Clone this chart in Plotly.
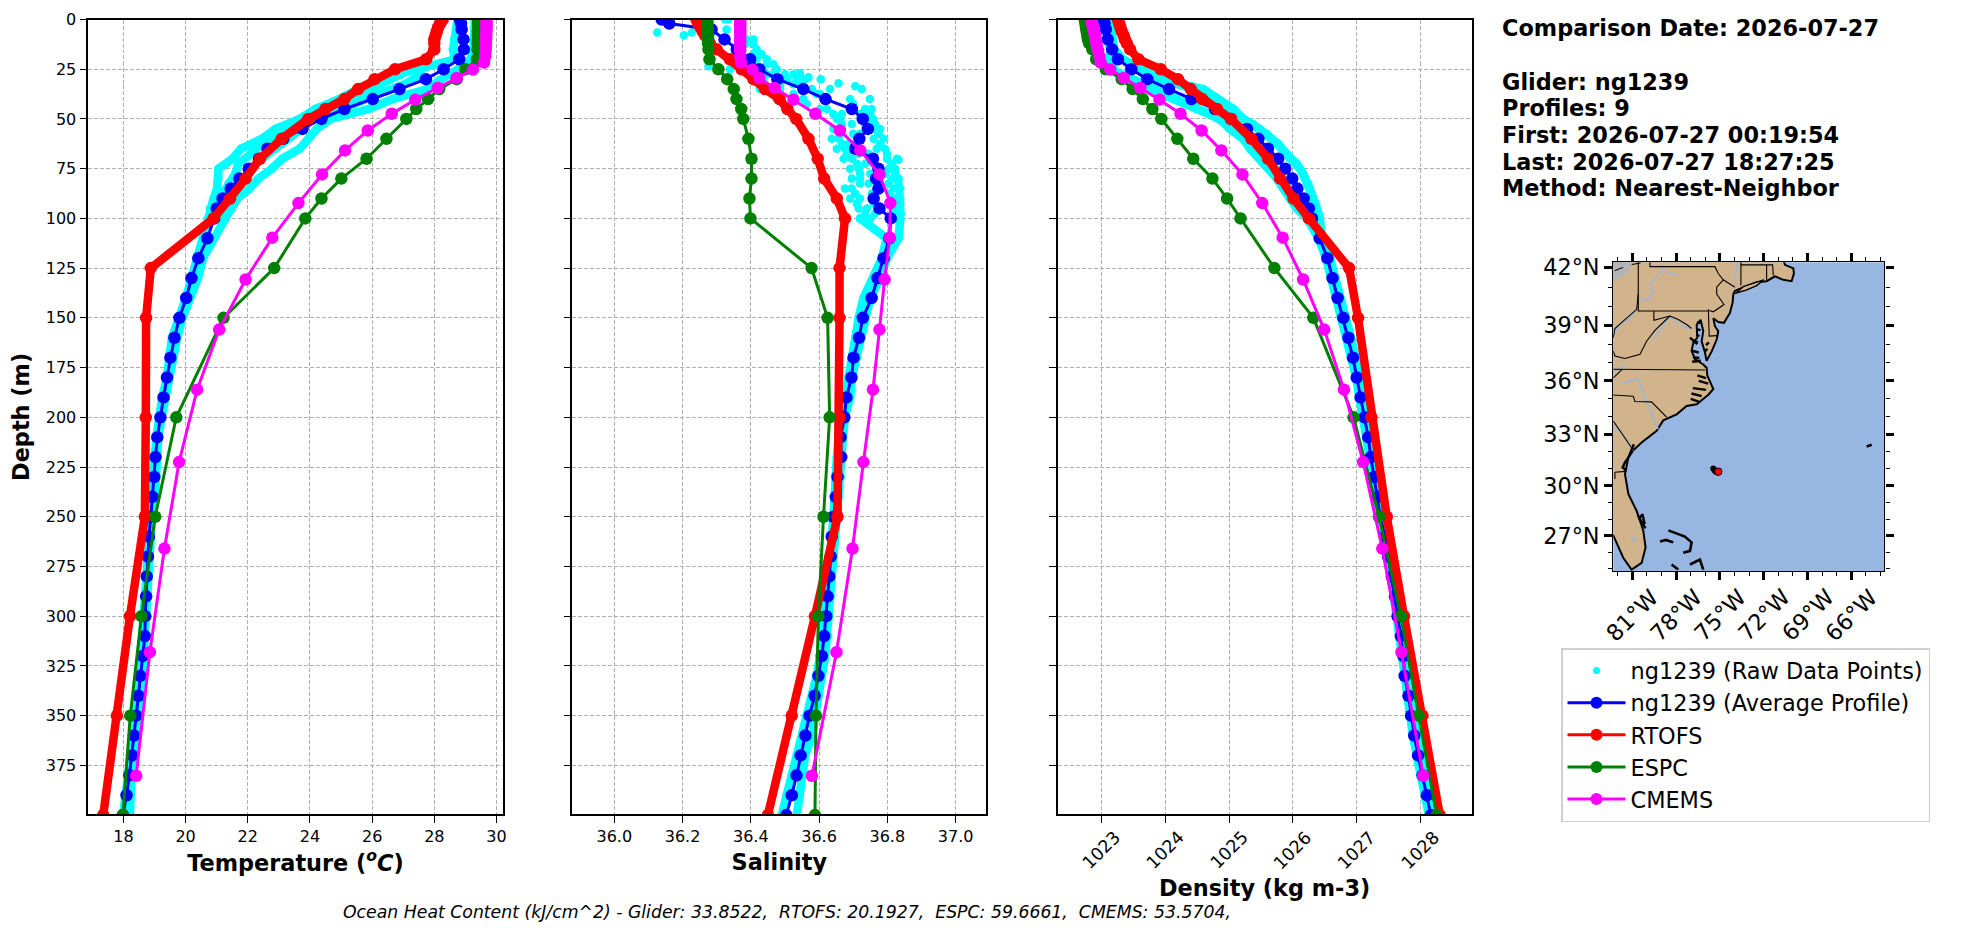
"""
Glider vs. model profile comparison for ng1239 with a small location map.
"""

import math

import plotly.graph_objects as go

FONT = 'DejaVu Sans'
WIDTH = 1968
HEIGHT = 934

# Average glider profile
AVG_DEPTH = [0, 2, 5, 10, 15, 20, 25, 30, 35, 40, 45, 50, 55, 60, 65, 70, 75, 80, 85, 90, 95, 100,
             110, 120, 130, 140, 150, 160, 170, 180, 190, 200, 210, 220, 230, 240, 250, 260, 270,
             280, 290, 300, 310, 320, 330, 340, 350, 360, 370, 380, 390, 400]
AVG_TEMP = [28.83, 28.86, 28.88, 28.94, 28.95, 28.8, 28.3, 27.73, 26.88, 26.02, 25.11, 24.37, 23.76,
            23.14, 22.63, 22.36, 22.03, 21.73, 21.45, 21.19, 21.0, 20.92, 20.7, 20.41, 20.19, 20.02,
            19.8, 19.64, 19.51, 19.4, 19.29, 19.19, 19.09, 19.03, 18.99, 18.93, 18.88, 18.82, 18.79,
            18.75, 18.73, 18.7, 18.69, 18.62, 18.54, 18.48, 18.41, 18.34, 18.28, 18.19, 18.1, 17.98]
AVG_SAL = [36.139, 36.161, 36.285, 36.323, 36.359, 36.398, 36.425, 36.478, 36.554, 36.619, 36.696,
           36.728, 36.743, 36.718, 36.706, 36.758, 36.774, 36.767, 36.774, 36.76, 36.777, 36.81,
           36.806, 36.789, 36.771, 36.754, 36.728, 36.717, 36.701, 36.695, 36.68, 36.674, 36.663,
           36.665, 36.654, 36.649, 36.642, 36.637, 36.634, 36.63, 36.625, 36.621, 36.615, 36.608,
           36.598, 36.587, 36.572, 36.56, 36.546, 36.534, 36.52, 36.504]
AVG_DEN = [1023.04, 1023.05, 1023.07, 1023.1, 1023.17, 1023.26, 1023.47, 1023.72, 1024.06, 1024.41,
           1024.78, 1025.03, 1025.28, 1025.46, 1025.61, 1025.77, 1025.88, 1025.99, 1026.07, 1026.17,
           1026.25, 1026.3, 1026.42, 1026.54, 1026.62, 1026.7, 1026.79, 1026.87, 1026.94, 1027.0,
           1027.06, 1027.12, 1027.18, 1027.22, 1027.27, 1027.33, 1027.37, 1027.44, 1027.49, 1027.55,
           1027.6, 1027.64, 1027.69, 1027.73, 1027.75, 1027.81, 1027.85, 1027.9, 1027.96, 1028.03,
           1028.1, 1028.16]

# RTOFS and ESPC share the same depth levels
MODEL_DEPTH = [0, 2, 4, 6, 8, 10, 12, 15, 20, 25, 30, 35, 40, 45, 50, 60, 70, 80, 90, 100, 125, 150,
               200, 250, 300, 350, 400]
RTOFS_TEMP = [28.27, 28.19, 28.12, 28.08, 28.04, 28.0, 28.0, 28.0, 27.74, 26.74, 26.08, 25.55, 25.11,
              24.5, 23.95, 23.09, 22.39, 21.93, 21.43, 20.9, 18.88, 18.73, 18.72, 18.69, 18.21, 17.79,
              17.35]
RTOFS_SAL = [36.241, 36.246, 36.253, 36.259, 36.266, 36.274, 36.28, 36.3, 36.339, 36.373, 36.408,
             36.442, 36.484, 36.507, 36.533, 36.569, 36.596, 36.615, 36.652, 36.676, 36.66, 36.66,
             36.66, 36.654, 36.588, 36.52, 36.45]
RTOFS_DEN = [1023.26, 1023.28, 1023.3, 1023.32, 1023.35, 1023.37, 1023.4, 1023.45, 1023.58, 1023.93,
             1024.2, 1024.4, 1024.58, 1024.81, 1025.03, 1025.35, 1025.61, 1025.8, 1026.01, 1026.25,
             1026.88, 1027.02, 1027.23, 1027.47, 1027.74, 1028.03, 1028.3]
ESPC_TEMP = [29.41, 29.41, 29.41, 29.4, 29.4, 29.4, 29.39, 29.39, 29.37, 29.0, 28.72, 28.16, 27.8,
             27.42, 27.1, 26.46, 25.82, 25.01, 24.37, 23.85, 22.85, 21.22, 19.7, 19.02, 18.58, 18.22,
             17.98]
ESPC_SAL = [36.273, 36.273, 36.274, 36.274, 36.275, 36.275, 36.275, 36.276, 36.279, 36.305, 36.331,
            36.35, 36.358, 36.372, 36.378, 36.393, 36.402, 36.402, 36.396, 36.399, 36.578, 36.625,
            36.631, 36.613, 36.598, 36.591, 36.588]
ESPC_DEN = [1022.74, 1022.75, 1022.76, 1022.77, 1022.78, 1022.79, 1022.81, 1022.86, 1022.92, 1023.07,
            1023.32, 1023.49, 1023.65, 1023.8, 1023.94, 1024.19, 1024.44, 1024.74, 1024.97, 1025.18,
            1025.71, 1026.32, 1026.95, 1027.35, 1027.69, 1027.97, 1028.25]

CMEMS_DEPTH = [0.5, 1.5, 2.6, 3.8, 5.1, 6.4, 7.9, 9.6, 11.4, 13.5, 15.8, 18.5, 21.6, 25.2, 29.4, 34.4,
               40.3, 47.4, 55.8, 65.8, 77.9, 92.3, 109.7, 130.7, 155.9, 186.1, 222.5, 266.0, 318.1,
               380.2]
CMEMS_TEMP = [29.68, 29.68, 29.68, 29.68, 29.68, 29.67, 29.67, 29.67, 29.66, 29.66, 29.65, 29.64, 29.6,
              29.24, 28.72, 28.11, 27.39, 26.63, 25.86, 25.13, 24.39, 23.63, 22.79, 21.93, 21.08,
              20.37, 19.79, 19.32, 18.85, 18.41]
CMEMS_SAL = [36.369, 36.369, 36.369, 36.369, 36.369, 36.369, 36.369, 36.369, 36.369, 36.369, 36.369,
             36.369, 36.371, 36.405, 36.425, 36.47, 36.525, 36.589, 36.661, 36.721, 36.777, 36.809,
             36.807, 36.792, 36.777, 36.758, 36.73, 36.698, 36.651, 36.579]
CMEMS_DEN = [1022.85, 1022.85, 1022.86, 1022.87, 1022.88, 1022.89, 1022.9, 1022.91, 1022.92, 1022.93,
             1022.95, 1022.97, 1022.99, 1023.14, 1023.35, 1023.61, 1023.91, 1024.24, 1024.57, 1024.88,
             1025.21, 1025.52, 1025.84, 1026.16, 1026.49, 1026.8, 1027.1, 1027.4, 1027.7, 1028.04]

# Raw glider points, read as columns across the cloud
RAW_UP_DEPTH = [0, 5, 10, 15, 20, 25, 30, 35, 40, 45, 50, 55, 60, 65, 70, 75, 80, 85, 90, 95, 100]
RAW_MID_DEPTH = [27.5, 32.5, 37.5, 42.5, 47.5, 52.5, 57.5, 62.5, 67.5, 72.5, 77.5, 82.5, 87.5, 92.5,
                 97.5]
RAW_INNER_DEPTH = [30, 35, 40, 45, 50, 55, 60, 65, 70, 75, 80, 85, 90, 95, 100]
RAW_LOWER_DEPTH = [47.5, 52.5, 57.5, 62.5, 67.5, 72.5, 77.5, 82.5, 87.5, 92.5, 97.5]
RAW_TOP_DEPTH = [12.5, 17.5, 22.5, 27.5, 32.5, 37.5]
RAW_TOP2_DEPTH = [12.5, 17.5, 22.5, 27.5]
RAW_DEEP_DEPTH = [100, 110, 120, 130, 140, 150, 160, 170, 180, 190, 200, 210, 220, 230, 240, 250, 260,
                  270, 280, 290, 300, 310, 320, 330, 340, 350, 360, 370, 380, 390, 400]

RAW_TEMP_UP_A = [28.75, 28.72, 28.64, 28.6, 28.66, 27.33, 26.22, 25.55, 24.94, 24.17, 23.67, 22.89,
                 22.45, 21.78, 21.51, 21.06, 21.06, 21.01, 20.9, 20.78, 20.73]
RAW_TEMP_UP_B = [29.3, 29.3, 29.28, 29.27, 29.16, 28.77, 28.22, 27.77, 26.66, 25.89, 24.67, 24.22,
                 23.95, 23.67, 23.11, 22.78, 22.34, 22.06, 21.67, 21.45, 21.28]
RAW_TEMP_MID_A = [26.95, 26.3, 25.55, 24.8, 24.05, 23.4, 23.0, 22.45, 22.1, 21.7, 21.6, 21.38, 21.2,
                  21.05, 20.9]
RAW_TEMP_MID_B = [27.6, 27.05, 26.2, 25.4, 24.4, 23.85, 23.5, 23.1, 22.6, 22.25, 22.0, 21.75, 21.42,
                  21.25, 21.12]
RAW_TEMP_DEEP_A = [20.73, 20.56, 20.4, 20.17, 20.01, 19.79, 19.56, 19.48, 19.4, 19.25, 19.14, 19.06,
                   19.01, 18.99, 18.92, 18.88, 18.84, 18.79, 18.73, 18.7, 18.68, 18.62, 18.57, 18.51,
                   18.45, 18.4, 18.32, 18.23, 18.14, 18.07, 17.99]
RAW_TEMP_DEEP_B = [21.28, 20.9, 20.56, 20.4, 20.12, 19.9, 19.73, 19.59, 19.45, 19.34, 19.23, 19.12,
                   19.1, 19.06, 19.01, 18.92, 18.88, 18.84, 18.81, 18.79, 18.77, 18.73, 18.7, 18.62,
                   18.57, 18.48, 18.4, 18.34, 18.26, 18.23, 18.21]

RAW_SAL_UP_A = [36.325, 36.329, 36.388, 36.359, 36.417, 36.339, 36.437, 36.427, 36.476, 36.603, 36.652,
                36.642, 36.637, 36.652, 36.672, 36.691, 36.696, 36.676, 36.691, 36.716, 36.72]
RAW_SAL_UP_B = [36.334, 36.369, 36.408, 36.417, 36.447, 36.476, 36.559, 36.632, 36.749, 36.754, 36.759,
                36.779, 36.789, 36.793, 36.828, 36.823, 36.833, 36.838, 36.838, 36.838, 36.838]
RAW_SAL_MID_A = [36.5, 36.486, 36.525, 36.564, 36.642, 36.667, 36.662, 36.667, 36.681, 36.711, 36.72,
                 36.72, 36.706, 36.711, 36.735]
RAW_SAL_MID_B = [36.447, 36.544, 36.603, 36.7, 36.72, 36.735, 36.72, 36.711, 36.745, 36.76, 36.794,
                 36.804, 36.808, 36.818, 36.823]
RAW_SAL_INNER_A = [36.505, 36.486, 36.554, 36.623, 36.662, 36.667, 36.657, 36.676, 36.696, 36.716, 36.72,
                   36.696, 36.72, 36.74, 36.75]
RAW_SAL_INNER_B = [36.535, 36.579, 36.691, 36.735, 36.745, 36.76, 36.76, 36.769, 36.799, 36.804, 36.814,
                   36.818, 36.823, 36.818, 36.828]
RAW_SAL_LOWER_A = [36.667, 36.696, 36.7, 36.686, 36.716, 36.735, 36.75, 36.745, 36.755, 36.76, 36.764]
RAW_SAL_LOWER_B = [36.75, 36.764, 36.774, 36.779, 36.799, 36.813, 36.823, 36.833, 36.836, 36.838, 36.84]
RAW_SAL_TOP_A = [36.383, 36.408, 36.447, 36.466, 36.525, 36.593]
RAW_SAL_TOP_B = [36.408, 36.432, 36.466, 36.525]
RAW_SAL_DEEP_A = [36.72, 36.798, 36.784, 36.76, 36.73, 36.716, 36.706, 36.696, 36.686, 36.672, 36.662,
                  36.657, 36.652, 36.65, 36.647, 36.642, 36.637, 36.632, 36.627, 36.622, 36.618, 36.608,
                  36.603, 36.593, 36.579, 36.564, 36.554, 36.54, 36.52, 36.505, 36.491]
RAW_SAL_DEEP_B = [36.838, 36.833, 36.799, 36.779, 36.75, 36.735, 36.725, 36.711, 36.696, 36.691, 36.676,
                  36.67, 36.667, 36.664, 36.657, 36.652, 36.647, 36.642, 36.637, 36.634, 36.63, 36.627,
                  36.618, 36.608, 36.598, 36.588, 36.579, 36.559, 36.549, 36.544, 36.535]
RAW_SAL_STRAY = [36.126, 36.204, 36.227, 36.276, 36.544, 36.569, 36.605, 36.657, 36.706, 36.725, 36.833]
RAW_SAL_STRAY_DEPTH = [6.5, 7.9, 6.5, 23.5, 27, 29, 30, 32, 33.5, 35, 70.5]

RAW_DEN_UP_A = [1023.06, 1023.07, 1023.09, 1023.15, 1023.11, 1023.19, 1023.4, 1023.76, 1024.13, 1024.49,
                1024.86, 1025.01, 1025.22, 1025.33, 1025.48, 1025.64, 1025.75, 1025.85, 1025.95, 1026.06,
                1026.22]
RAW_DEN_UP_B = [1023.14, 1023.15, 1023.17, 1023.2, 1023.34, 1023.61, 1023.92, 1024.6, 1024.81, 1025.07,
                1025.22, 1025.48, 1025.67, 1025.82, 1025.95, 1026.11, 1026.19, 1026.27, 1026.32, 1026.37,
                1026.42]
RAW_DEN_MID_A = [1023.32, 1023.66, 1024.02, 1024.39, 1024.7, 1024.96, 1025.2, 1025.35, 1025.51, 1025.67,
                 1025.77, 1025.88, 1025.98, 1026.08, 1026.19]
RAW_DEN_MID_B = [1023.71, 1024.23, 1024.68, 1024.91, 1025.12, 1025.38, 1025.59, 1025.77, 1025.9, 1026.06,
                 1026.16, 1026.24, 1026.29, 1026.35, 1026.4]
RAW_DEN_DEEP_A = [1026.22, 1026.4, 1026.52, 1026.6, 1026.67, 1026.77, 1026.85, 1026.93, 1026.99, 1027.04,
                  1027.1, 1027.16, 1027.2, 1027.25, 1027.31, 1027.35, 1027.42, 1027.47, 1027.53, 1027.58,
                  1027.62, 1027.67, 1027.71, 1027.73, 1027.79, 1027.83, 1027.88, 1027.94, 1028.01,
                  1028.08, 1028.13]
RAW_DEN_DEEP_B = [1026.42, 1026.46, 1026.58, 1026.67, 1026.74, 1026.83, 1026.91, 1026.98, 1027.04, 1027.1,
                  1027.16, 1027.21, 1027.25, 1027.3, 1027.35, 1027.4, 1027.47, 1027.52, 1027.57, 1027.62,
                  1027.66, 1027.71, 1027.75, 1027.77, 1027.83, 1027.87, 1027.92, 1027.98, 1028.05,
                  1028.12, 1028.18]

DEPTH_TICKS = [0, 25, 50, 75, 100, 125, 150, 175, 200, 225, 250, 275, 300, 325, 350, 375]
TEMP_TICKS = [18, 20, 22, 24, 26, 28, 30]
SAL_TICKS = [36.0, 36.2, 36.4, 36.6, 36.8, 37.0]
SAL_LABELS = ['36.0', '36.2', '36.4', '36.6', '36.8', '37.0']
DEN_TICKS = [1023, 1024, 1025, 1026, 1027, 1028]

INFO_LINES = ['Comparison Date: 2026-07-27', '', 'Glider: ng1239', 'Profiles: 9',
              'First: 2026-07-27 00:19:54', 'Last: 2026-07-27 18:27:25', 'Method: Nearest-Neighbor']
OHC_TEXT = ('Ocean Heat Content (kJ/cm^2) - Glider: 33.8522,  RTOFS: 20.1927,  '
            'ESPC: 59.6661,  CMEMS: 53.5704,')

# Map data, lon/lat
LAT_TICKS = [27, 30, 33, 36, 39, 42]
LAT_MINOR = [25, 26, 28, 29, 31, 32, 34, 35, 37, 38, 40, 41]
LON_TICKS = [-81, -78, -75, -72, -69, -66]
LON_MINOR = [-82, -80, -79, -77, -76, -74, -73, -71, -70, -68, -67, -65, -64]

LAND_LON = [-70.89, -70.54, -69.97, -69.93, -70.09, -70.66, -71.23, -71.8, -72.48, -73.4, -73.97, -74.08,
            -74.13, -74.31, -74.72, -75.11, -75.45, -75.34, -75.11, -75.22, -75.57, -75.91, -76.02, -76.25,
            -76.14, -76.32, -76.59, -76.55, -76.82, -76.94, -76.71, -76.14, -75.91, -75.86, -75.45, -75.79,
            -76.59, -77.28, -77.96, -78.88, -79.33, -80.36, -80.93, -81.27, -81.5, -81.27, -80.7, -80.25,
            -80.09, -80.36, -81.05, -81.62, -82.07, -82.3, -83, -83, -70.89]
LAND_LAT = [43, 42.14, 41.96, 41.7, 41.31, 41.38, 41.56, 41.31, 41.26, 41.0, 40.82, 40.64,
            40.2, 39.67, 39.14, 39.18, 39.38, 38.96, 38.7, 38.25, 37.6, 37.1, 37.55, 38.15,
            38.7, 39.3, 39.05, 38.35, 38.08, 37.65, 37.2, 36.9, 36.72, 36.29, 35.55, 35.23,
            34.7, 34.6, 34.13, 33.79, 33.19, 32.52, 32.08, 31.65, 30.69, 29.52, 28.5, 27.33,
            26.29, 25.34, 24.93, 25.66, 26.5, 27.02, 27.3, 43, 43]
ISLAND_LON = [-73.97, -73.4, -72.48, -72.0, -72.48, -73.2, -73.9, -73.97]
ISLAND_LAT = [40.66, 41.03, 41.26, 41.38, 41.08, 40.85, 40.7, 40.66]
LAKE_LON = [-83, -80.2, -81.4, -83, -83]
LAKE_LAT = [43, 43, 41.65, 41.0, 43]
BORDER_DASH_LON = [-82.2, -81.1, -79.9]
BORDER_DASH_LAT = [41.85, 42.15, 42.3]

BORDER_LON = [-80.59, -80.59, -75.79, None, -79.79, -79.79, -75.34, -75.11, -74.77, -73.97, None,
              -74.77, -75.22, -75.22, -74.72, -75.45, -75.73, None, -75.79, -75.73, -75.22, None,
              -73.56, -73.56, None, -73.56, -71.39, -71.34, None, -71.8, -71.8, None,
              -79.52, -79.52, -78.42, -77.85, -77.28, -76.94, None,
              -82.3, -82.19, -81.5, -80.47, -80.02, -79.45, -78.42, None,
              -80.59, -80.7, -81.62, -82.19, -82.3, None, -83, -76.02, None, -82.3, -81.73, None,
              -83, -80.93, -80.82, -79.68, -78.65, None, -82.3, -81.5, -80.93, None,
              -82.19, -81.5, None, -82.19, -82.19]
BORDER_LAT = [43, 39.76, 39.76, None, 42.5, 42.05, 42.05, 41.7, 41.38, 41.0, None,
              41.38, 41.0, 40.64, 40.1, 39.72, 39.79, None, 39.85, 38.43, 38.46, None,
              42.5, 41.09, None, 42.14, 42.14, 41.6, None, 42.14, 41.38, None,
              39.76, 39.27, 39.5, 39.32, 39.05, 38.84, None,
              37.64, 37.36, 37.23, 37.45, 38.16, 38.74, 39.5, None,
              40.64, 39.85, 39.23, 38.84, 38.35, None, 36.64, 36.6, None, 36.16, 36.6, None,
              35.25, 35.15, 34.85, 34.83, 33.97, None, 33.75, 32.8, 32.08, None,
              30.8, 30.85, None, 30.8, 30.4]

# short black inlets along the bays and sounds
COAST_DETAIL_LON = [-76.55, -76.35, None, -76.6, -76.32, None, -76.62, -76.4, None, -76.85, -76.5, None,
                    -77.05, -76.55, None, -76.95, -76.45, None, -76.85, -76.4, None, -76.9, -76.3, None,
                    -75.75, -75.95, None, -75.85, -76.05, None,
                    -76.55, -75.95, None, -76.45, -75.8, None, -76.85, -75.95, None, -76.95, -76.25, None,
                    -77.0, -76.45, None,
                    -80.89, -81.27, -81.5, -81.66, -81.39, None, -80.6, -80.1, None,
                    -80.55, -80.3, -80.15]
COAST_DETAIL_LAT = [39.2, 39.1, None, 38.8, 38.75, None, 38.5, 38.45, None, 38.2, 38.1, None,
                    38.35, 38.0, None, 37.65, 37.55, None, 37.3, 37.25, None, 37.05, 37.1, None,
                    38.1, 37.95, None, 37.75, 37.6, None,
                    36.3, 36.15, None, 36.0, 35.85, None, 35.6, 35.5, None, 35.3, 35.15, None,
                    35.0, 34.85, None,
                    32.42, 31.65, 31.37, 31.08, 30.88, None, 28.2, 27.45, None,
                    28.0, 28.3, 27.7]

RIVER_LON = [-77.85, -78.42, -78.88, -79.33, -79.79, -79.56, -80.02, -80.47, None,
             -82.3, -81.84, -81.27, -80.66, None, -79.56, -79.1, -78.42, -77.74, -77.05, None,
             -73.81, -73.97, None, -81.62, -80.59, -80.25, -79.22, None, -82.3, -81.62, -80.93, None,
             -82.3, -81.5]
RIVER_LAT = [41.65, 41.7, 41.96, 41.53, 41.17, 40.73, 40.28, 40.46, None,
             38.44, 39.05, 39.32, 39.85, None, 38.25, 38.79, 39.5, 39.05, 38.8, None,
             42.28, 41.09, None, 35.87, 36.11, 35.27, 33.29, None, 33.55, 33.0, 32.04, None,
             36.49, 36.87]

# Bahamas and Bermuda as thin black strokes
BANK_LON = [-79.1, -78.7, -78.19, None, -78.53, -77.96, -77.4, -76.94, -77.05, -77.51, None,
            -78.31, -77.85, None, -77.05, -76.37, -76.14, None, -64.95, -64.6]
BANK_LAT = [26.65, 26.75, 26.6, None, 27.33, 27.12, 26.95, 26.6, 26.08, 25.97, None,
            25.24, 24.93, None, 25.24, 25.55, 24.93, None, 32.29, 32.4]

TRACK_LON = [-75.45, -75.39, -75.34, -75.28, -75.22]
TRACK_LAT = [31.02, 30.95, 30.88, 30.84, 30.79]
LAST_LON = [-75.11]
LAST_LAT = [30.83]
LAKE_DOT_LON = [-80.89]
LAKE_DOT_LAT = [26.81]

WATER = '#98b6e2'
LAND = '#d2b48c'
GRID = '#b0b0b0'


def merc(lat):
    """Mercator y for a latitude in degrees (None stays None for line breaks)."""
    if lat is None:
        return None
    return math.log(math.tan(math.pi / 4 + math.radians(lat) / 2))


def merc_list(lats):
    return [merc(v) for v in lats]


def px_x(x):
    return x / WIDTH


def px_y(y):
    return 1 - y / HEIGHT


def add_panel(fig, axis, rows, joined=True):
    """Raw cloud first, then average and models on top, one panel."""
    xname, yname = axis
    raw_style = dict(color='cyan', size=8.5)
    raw_line = dict(color='cyan', width=8.5)
    common = dict(xaxis=xname, yaxis=yname, showlegend=False)
    upper_mode = 'lines+markers' if joined else 'markers'
    for xs, ys in rows['upper']:
        fig.add_trace(go.Scatter(x=xs, y=ys, mode=upper_mode, marker=raw_style, line=raw_line, **common))
    for xs in rows['deep']:
        fig.add_trace(go.Scatter(x=xs, y=RAW_DEEP_DEPTH, mode='lines+markers', marker=raw_style,
                                 line=raw_line, **common))
    fig.add_trace(go.Scatter(x=rows['avg'], y=AVG_DEPTH, mode='lines+markers',
                             marker=dict(color='blue', size=12.5), line=dict(color='blue', width=3),
                             **common))
    fig.add_trace(go.Scatter(x=rows['rtofs'], y=MODEL_DEPTH, mode='lines+markers',
                             marker=dict(color='red', size=12.5), line=dict(color='red', width=8.5),
                             **common))
    fig.add_trace(go.Scatter(x=rows['espc'], y=MODEL_DEPTH, mode='lines+markers',
                             marker=dict(color='green', size=12.5), line=dict(color='green', width=3),
                             **common))
    fig.add_trace(go.Scatter(x=rows['cmems'], y=CMEMS_DEPTH, mode='lines+markers',
                             marker=dict(color='magenta', size=12.5), line=dict(color='magenta', width=3),
                             **common))


fig = go.Figure()

add_panel(fig, ('x', 'y'), dict(
    upper=[(RAW_TEMP_UP_A, RAW_UP_DEPTH), (RAW_TEMP_UP_B, RAW_UP_DEPTH),
           (RAW_TEMP_MID_A, RAW_MID_DEPTH), (RAW_TEMP_MID_B, RAW_MID_DEPTH)],
    deep=[RAW_TEMP_DEEP_A, RAW_TEMP_DEEP_B],
    avg=AVG_TEMP, rtofs=RTOFS_TEMP, espc=ESPC_TEMP, cmems=CMEMS_TEMP))
add_panel(fig, ('x2', 'y2'), dict(
    upper=[(RAW_SAL_UP_A, RAW_UP_DEPTH), (RAW_SAL_UP_B, RAW_UP_DEPTH),
           (RAW_SAL_MID_A, RAW_MID_DEPTH), (RAW_SAL_MID_B, RAW_MID_DEPTH),
           (RAW_SAL_INNER_A, RAW_INNER_DEPTH), (RAW_SAL_INNER_B, RAW_INNER_DEPTH),
           (RAW_SAL_LOWER_A, RAW_LOWER_DEPTH), (RAW_SAL_LOWER_B, RAW_LOWER_DEPTH),
           (RAW_SAL_TOP_A, RAW_TOP_DEPTH), (RAW_SAL_TOP_B, RAW_TOP2_DEPTH),
           (RAW_SAL_STRAY, RAW_SAL_STRAY_DEPTH)],
    deep=[RAW_SAL_DEEP_A, RAW_SAL_DEEP_B],
    avg=AVG_SAL, rtofs=RTOFS_SAL, espc=ESPC_SAL, cmems=CMEMS_SAL), joined=False)
add_panel(fig, ('x3', 'y3'), dict(
    upper=[(RAW_DEN_UP_A, RAW_UP_DEPTH), (RAW_DEN_UP_B, RAW_UP_DEPTH),
           (RAW_DEN_MID_A, RAW_MID_DEPTH), (RAW_DEN_MID_B, RAW_MID_DEPTH)],
    deep=[RAW_DEN_DEEP_A, RAW_DEN_DEEP_B],
    avg=AVG_DEN, rtofs=RTOFS_DEN, espc=ESPC_DEN, cmems=CMEMS_DEN))

# Map, drawn on plain axes with a Mercator y since no basemap files are reachable
map_axes = dict(xaxis='x4', yaxis='y4', showlegend=False, hoverinfo='skip')
fig.add_trace(go.Scatter(x=LAND_LON, y=merc_list(LAND_LAT), mode='lines', fill='toself', fillcolor=LAND,
                         line=dict(color='black', width=2), **map_axes))
fig.add_trace(go.Scatter(x=ISLAND_LON, y=merc_list(ISLAND_LAT), mode='lines', fill='toself', fillcolor=LAND,
                         line=dict(color='black', width=1.4), **map_axes))
fig.add_trace(go.Scatter(x=LAKE_LON, y=merc_list(LAKE_LAT), mode='lines', fill='toself', fillcolor='#b4b4b4',
                         line=dict(color='#b4b4b4', width=0), **map_axes))
fig.add_trace(go.Scatter(x=RIVER_LON, y=merc_list(RIVER_LAT), mode='lines',
                         line=dict(color=WATER, width=1.4), **map_axes))
fig.add_trace(go.Scatter(x=BORDER_LON, y=merc_list(BORDER_LAT), mode='lines',
                         line=dict(color='black', width=1.1), **map_axes))
fig.add_trace(go.Scatter(x=BORDER_DASH_LON, y=merc_list(BORDER_DASH_LAT), mode='lines',
                         line=dict(color='black', width=1, dash='dash'), **map_axes))
fig.add_trace(go.Scatter(x=COAST_DETAIL_LON, y=merc_list(COAST_DETAIL_LAT), mode='lines',
                         line=dict(color='black', width=2.4), **map_axes))
fig.add_trace(go.Scatter(x=BANK_LON, y=merc_list(BANK_LAT), mode='lines',
                         line=dict(color='black', width=2.6), **map_axes))
fig.add_trace(go.Scatter(x=LAKE_DOT_LON, y=merc_list(LAKE_DOT_LAT), mode='markers',
                         marker=dict(color='#b4b4b4', size=6), **map_axes))
fig.add_trace(go.Scatter(x=TRACK_LON, y=merc_list(TRACK_LAT), mode='markers',
                         marker=dict(color='black', size=6), **map_axes))
fig.add_trace(go.Scatter(x=LAST_LON, y=merc_list(LAST_LAT), mode='markers',
                         marker=dict(color='red', size=7.5, line=dict(color='black', width=1)), **map_axes))

# Legend entries only; the thick red line would be too heavy in the legend
legend_rows = [('ng1239 (Raw Data Points)', 'cyan', 'markers', 7),
               ('ng1239 (Average Profile)', 'blue', 'lines+markers', 12),
               ('RTOFS', 'red', 'lines+markers', 12),
               ('ESPC', 'green', 'lines+markers', 12),
               ('CMEMS', 'magenta', 'lines+markers', 12)]
for name, color, mode, size in legend_rows:
    fig.add_trace(go.Scatter(x=[None], y=[None], name=name, mode=mode, xaxis='x', yaxis='y',
                             marker=dict(color=color, size=size), line=dict(color=color, width=3)))

axis_style = dict(showline=True, linecolor='black', linewidth=1.6, mirror=True, ticks='outside',
                  ticklen=7, tickwidth=1.4, tickcolor='black', zeroline=False,
                  showgrid=True, gridcolor=GRID, griddash='4px,2px', gridwidth=1,
                  tickfont=dict(family=FONT, size=16, color='black'))
title_font = dict(family=FONT, size=22.4, color='black', weight='bold')
depth_axis = dict(range=[399.6, 0], tickvals=DEPTH_TICKS, **axis_style)
panel_top = px_y(19.5)
panel_bottom = px_y(814.3)

fig.update_layout(
    width=WIDTH,
    height=HEIGHT,
    margin=dict(l=0, r=0, t=0, b=0, autoexpand=False),
    paper_bgcolor='white',
    plot_bgcolor='white',
    font=dict(family=FONT, color='black'),
    xaxis=dict(domain=[px_x(88.3), px_x(502.7)], range=[16.87, 30.2], tickvals=TEMP_TICKS,
               title=dict(text='Temperature (<sup><i>o</i></sup><i>C</i>)', font=title_font, standoff=9),
               **axis_style),
    yaxis=dict(domain=[panel_bottom, panel_top], anchor='x',
               title=dict(text='Depth (m)', font=title_font, standoff=10), **depth_axis),
    xaxis2=dict(domain=[px_x(572.3), px_x(986.3)], range=[35.877, 37.09], tickvals=SAL_TICKS,
                ticktext=SAL_LABELS, anchor='y2',
                title=dict(text='Salinity', font=title_font, standoff=9), **axis_style),
    yaxis2=dict(domain=[panel_bottom, panel_top], anchor='x2', showticklabels=False, **depth_axis),
    xaxis3=dict(domain=[px_x(1057.7), px_x(1471.7)], range=[1022.317, 1028.8], tickvals=DEN_TICKS,
                anchor='y3', showticklabels=False, **axis_style),
    yaxis3=dict(domain=[panel_bottom, panel_top], anchor='x3', showticklabels=False, **depth_axis),
    xaxis4=dict(domain=[px_x(1613.3), px_x(1884.3)], range=[-82.3, -63.74], anchor='y4', tickvals=LON_TICKS,
                showticklabels=False, showgrid=False, zeroline=False, showline=True, linecolor='black',
                linewidth=1.4, mirror='allticks', ticks='outside', ticklen=8, tickwidth=2.6, tickcolor='black',
                minor=dict(tickvals=LON_MINOR, ticks='outside', ticklen=4, tickwidth=1.4, tickcolor='black')),
    yaxis4=dict(domain=[px_y(571), px_y(262.3)], range=[merc(24.84), merc(42.27)], anchor='x4',
                tickvals=merc_list(LAT_TICKS), ticktext=[f'{v}°N' for v in LAT_TICKS],
                tickfont=dict(family=FONT, size=22.4, color='black'), showgrid=False, zeroline=False,
                showline=True, linecolor='black', linewidth=1.4, mirror='allticks', ticks='outside',
                ticklen=8, tickwidth=2.6, tickcolor='black',
                minor=dict(tickvals=merc_list(LAT_MINOR), ticks='outside', ticklen=4, tickwidth=1.4,
                           tickcolor='black')),
    legend=dict(x=px_x(1561), y=px_y(648), xanchor='left', yanchor='top', bgcolor='white',
                bordercolor='#d0d0d0', borderwidth=1.5, font=dict(family=FONT, size=22.4, color='black'),
                itemwidth=58, traceorder='normal'),
    shapes=[dict(type='rect', xref='x4 domain', yref='y4 domain', x0=0, x1=1, y0=0, y1=1,
                 fillcolor=WATER, line=dict(width=0), layer='below')],
)

notes = []
for i, line in enumerate(INFO_LINES):
    if line:
        notes.append(dict(text=f'<b>{line}</b>', x=px_x(1500), y=px_y(28.3 + i * 26.67), xref='paper', yref='paper',
                          xanchor='left', yanchor='middle', showarrow=False,
                          font=dict(family=FONT, size=22.4, color='black')))
notes.append(dict(text=f'<i>{OHC_TEXT}</i>', x=px_x(787), y=px_y(911.5), xref='paper', yref='paper',
                  xanchor='center', yanchor='middle', showarrow=False,
                  font=dict(family=FONT, size=17.3, color='black')))
notes.append(dict(text='Density (kg m-3)', x=px_x(1264.7), y=px_y(888), xref='paper', yref='paper',
                  xanchor='center', yanchor='middle', showarrow=False, font=title_font))
# Rotated tick labels are centred on their ticks
for val in DEN_TICKS:
    notes.append(dict(text=str(val), x=val, xref='x3', y=px_y(850), yref='paper', textangle=-45,
                      xanchor='center', yanchor='middle', showarrow=False,
                      font=dict(family=FONT, size=17.5, color='black')))
for val in LON_TICKS:
    notes.append(dict(text=f'{-val}°W', x=val, xref='x4', y=px_y(615), yref='paper', textangle=-45,
                      xanchor='center', yanchor='middle', showarrow=False,
                      font=dict(family=FONT, size=22.4, color='black')))
fig.update_layout(annotations=notes)

fig.write_html("out.html", config={'displayModeBar': False},
               post_script="document.body.style.margin='0';document.documentElement.style.overflow='hidden';")
